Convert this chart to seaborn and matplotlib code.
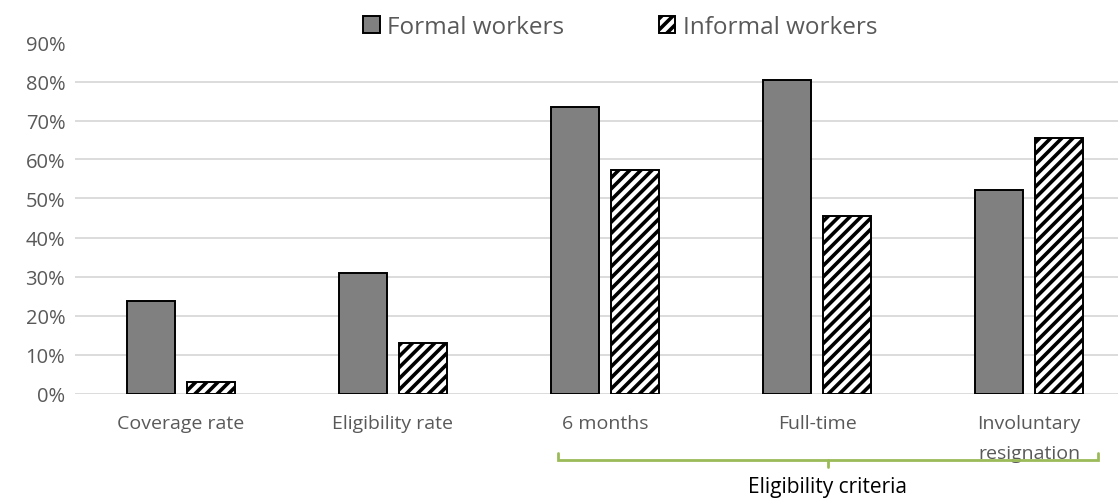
import matplotlib
matplotlib.use("Agg")
import matplotlib.pyplot as plt
import matplotlib.patches as patches
import numpy as np
import pandas as pd
import seaborn as sns

# data (percent)
categories = ["Coverage rate", "Eligibility rate", "6 months", "Full-time", "Involuntary\nresignation"]
series_names = ["Formal workers", "Informal workers"]
formal_values = [23.6, 30.8, 73.5, 80.5, 52.3]
informal_values = [3.0, 12.9, 57.4, 45.6, 65.6]
yticks = [0, 10, 20, 30, 40, 50, 60, 70, 80, 90]
bracket_label = "Eligibility criteria"

df = pd.DataFrame({
    "category": categories * 2,
    "group": [series_names[0]] * len(categories) + [series_names[1]] * len(categories),
    "value": formal_values + informal_values,
})

# style
sns.set_theme(style="white")
plt.rcParams["font.family"] = ["Open Sans", "DejaVu Sans"]
plt.rcParams["hatch.linewidth"] = 2.6
text_grey = "#595959"
bracket_green = "#9BBB59"

fig = plt.figure(figsize=(11.18, 5.02), dpi=100, facecolor="white")
ax = fig.add_axes([75 / 1118, 1 - 394.5 / 502, 1 - 75 / 1118, 351 / 502])

sns.barplot(data=df, x="category", y="value", hue="group", order=categories,
            hue_order=series_names, palette=["#808080", "white"],
            width=0.56, gap=0.19, edgecolor="black", linewidth=1.4,
            legend=False, ax=ax, zorder=3)

# hatch the informal bars
n = len(categories)
for i, bar in enumerate(ax.patches[:2 * n]):
    if i >= n:
        bar.set_hatch("///")
        bar.set_facecolor("white")

# axes
ax.set_ylim(0, 90)
ax.set_xlim(-0.5, (1118 - 75) / 212 - 0.5)
ax.set_yticks(yticks)
ax.set_yticklabels([f"{t}%" for t in yticks], color=text_grey, fontsize=14.5)
ax.set_xticks(range(n))
ax.set_xticklabels(categories, color=text_grey, fontsize=14, linespacing=1.8)
ax.tick_params(axis="x", length=0, pad=15)
ax.tick_params(axis="y", length=0, pad=7)
ax.set_xlabel("")
ax.set_ylabel("")
ax.yaxis.grid(True, color="#d9d9d9", linewidth=1.3, zorder=0)
ax.set_axisbelow(True)
for s in ax.spines.values():
    s.set_visible(False)

# legend
handles = [
    patches.Patch(facecolor="#808080", edgecolor="black", linewidth=1.4, label=series_names[0]),
    patches.Patch(facecolor="white", edgecolor="black", linewidth=1.4, hatch="///", label=series_names[1]),
]
fig.legend(handles=handles, loc="center", bbox_to_anchor=(620 / 1118, 1 - 28 / 502), ncol=2,
           frameon=False, fontsize=17.5, labelcolor=text_grey, handlelength=0.68,
           handleheight=0.68, handletextpad=0.3, columnspacing=3.9)

# bracket under the eligibility criteria
tr = ax.get_xaxis_transform()
x0, x1 = (558 - 75) / 212 - 0.5, (1098 - 75) / 212 - 0.5
xm = (x0 + x1) / 2
y_line, y_end, y_mid = -0.189, -0.170, -0.209
ax.plot([x0, x0, x1, x1], [y_end, y_line, y_line, y_end], transform=tr,
        color=bracket_green, linewidth=2, clip_on=False, solid_joinstyle="miter")
ax.plot([xm, xm], [y_line, y_mid], transform=tr, color=bracket_green,
        linewidth=2, clip_on=False)
ax.text(xm, -0.265, bracket_label, transform=tr, ha="center", va="center",
        fontsize=15, color="black")

fig.savefig("out.png", dpi=100, facecolor="white")
